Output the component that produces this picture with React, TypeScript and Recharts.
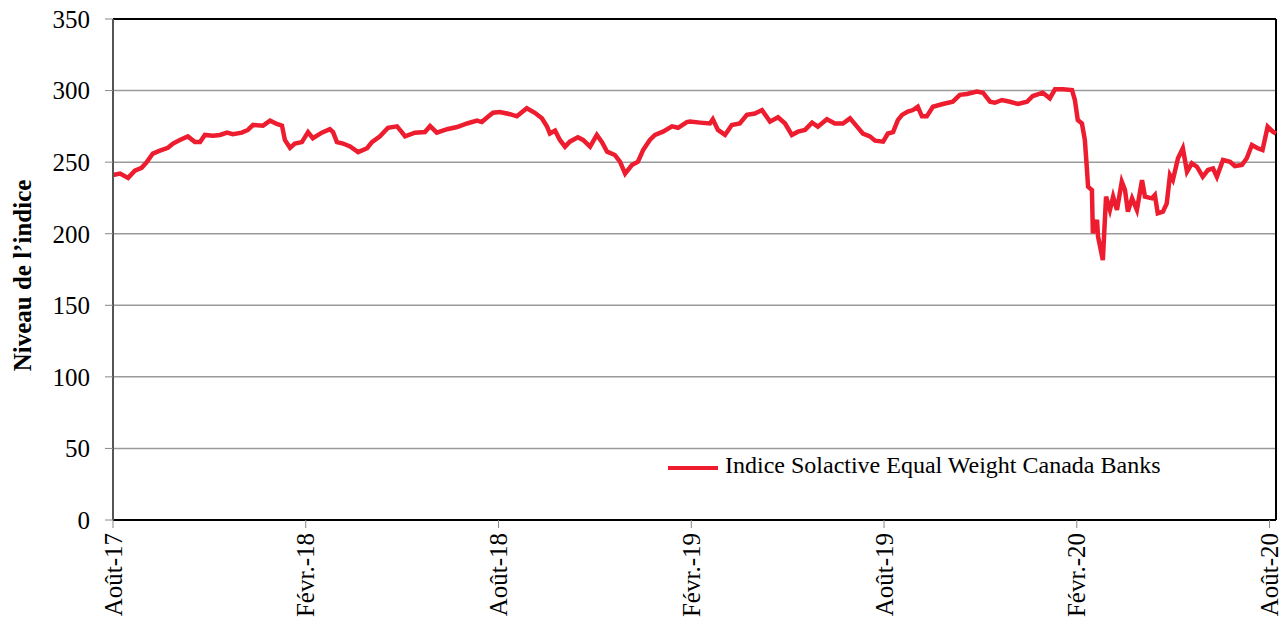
import { LineChart, Line, XAxis, YAxis, CartesianGrid, ReferenceLine, Legend } from 'recharts';

// months since August 2017
const months = [
  0, 0.22, 0.47, 0.68, 0.89, 1.05, 1.24, 1.46, 1.71, 1.87, 2.08, 2.33, 2.55, 2.71, 2.86, 3.11, 3.33, 3.55, 3.73,
  4.01, 4.2, 4.36, 4.67, 4.89, 5.1, 5.26, 5.35, 5.51, 5.66, 5.88, 6.07, 6.22, 6.5, 6.75, 6.85, 6.97, 7.16, 7.38,
  7.63, 7.91, 8.06, 8.31, 8.56, 8.84, 8.99, 9.09, 9.4, 9.71, 9.87, 10.08, 10.4, 10.71, 11.02, 11.33, 11.48, 11.67,
  11.83, 12.04, 12.36, 12.57, 12.88, 13.13, 13.35, 13.51, 13.6, 13.76, 13.91, 14.07, 14.22, 14.47, 14.63, 14.85,
  15.06, 15.22, 15.38, 15.62, 15.78, 15.94, 16.15, 16.34, 16.5, 16.71, 16.87, 17.12, 17.4, 17.59, 17.86, 17.96,
  18.27, 18.58, 18.67, 18.83, 19.05, 19.26, 19.51, 19.73, 19.98, 20.2, 20.45, 20.7, 20.92, 21.13, 21.32, 21.54,
  21.76, 21.94, 22.22, 22.47, 22.72, 22.94, 23.16, 23.34, 23.56, 23.72, 23.97, 24.12, 24.28, 24.43, 24.56, 24.74,
  24.9, 25.05, 25.18, 25.33, 25.52, 25.83, 26.14, 26.36, 26.58, 26.89, 27.08, 27.3, 27.45, 27.67, 27.92, 28.17,
  28.45, 28.63, 28.94, 29.16, 29.32, 29.57, 29.85, 29.94, 30.03, 30.16, 30.25, 30.31, 30.35, 30.47, 30.5, 30.63,
  30.66, 30.81, 30.91, 31.03, 31.13, 31.25, 31.4, 31.5, 31.59, 31.72, 31.87, 32.03, 32.12, 32.34, 32.43, 32.52,
  32.68, 32.8, 32.9, 32.99, 33.15, 33.3, 33.43, 33.58, 33.74, 33.92, 34.08, 34.24, 34.36, 34.55, 34.77, 34.92,
  35.14, 35.29, 35.45, 35.63, 35.78, 35.94, 36.1, 36.2,
];

const values = [
  241, 242, 239, 244, 246, 250, 256, 258, 260, 263, 265.5, 268, 264, 264, 269, 268.5, 269, 270.6, 269.5,
  270.6, 272.5, 276, 275.5, 279, 276.7, 275.5, 265.5, 260, 263, 264, 271, 266.7, 270.6, 273, 271, 264, 263, 261,
  257, 259.7, 264, 268, 274, 275, 271, 268, 270.6, 271, 275.2, 270.6, 273, 274.5, 277, 279, 278, 281.7,
  284.5, 285, 283.5, 282, 287.6, 284.5, 280.6, 274.8, 270, 272, 265.5, 260.8, 264.3, 267.4, 265.5, 260.8,
  269, 264, 257.3, 255, 250.3, 242, 248, 250.3, 258.5, 265.5, 269, 271.3, 275, 274, 278, 278.3,
  277.6, 277, 280, 272.5, 269, 276, 277, 283, 284, 286.4, 278.3, 281.3, 277, 269, 271.3, 272.5,
  277.6, 274.8, 280, 277, 277, 280.6, 274.8, 270, 268, 265, 264.3, 270, 271, 279.4, 283, 285.3,
  286.4, 288.7, 282, 282, 288.7, 290.6, 292.2, 297, 297.6, 299.3, 298.5, 292.2, 291.5, 293.4, 292.2, 290.6,
  292.2, 296.2, 298.5, 294.6, 300.9, 300.9, 300.4, 293.4, 279.4, 277, 265.5, 246.8, 232.8, 230.5, 200.3, 209.6,
  198, 181.6, 225.9, 216.6, 225.9, 216.6, 236.3, 230.5, 215.4, 224.7, 216.6, 237.5, 225.9, 224.7, 227, 214.2,
  215.4, 221.2, 241, 237.5, 252.7, 259.7, 243.3, 249.2, 246.8, 239.8, 244.5, 245.6, 239.8, 251.5, 250.3, 247.3,
  248, 252.7, 262, 259.7, 258.5, 274.8, 271.3, 270,
];

const tickMonths = [0, 6, 12, 18, 24, 30, 36];
const tickLabels = ['Août-17', 'Févr.-18', 'Août-18', 'Févr.-19', 'Août-19', 'Févr.-20', 'Août-20'];
const yTicks = [0, 50, 100, 150, 200, 250, 300, 350];
const seriesName = 'Indice Solactive Equal Weight Canada Banks';
const yTitle = 'Niveau de l’indice';

const data = months.map((m, i) => ({ m, v: values[i] }));

const font = '"Liberation Serif", "Times New Roman", serif';
const red = '#ED1C2E';

const XTick = (props: any) => {
  const { x, y, payload } = props;
  const label = tickLabels[tickMonths.indexOf(payload.value)];
  return (
    <text
      x={x}
      y={y}
      transform={`rotate(-90, ${x}, ${y})`}
      textAnchor="end"
      dominantBaseline="central"
      fontFamily={font}
      fontSize={25}
      fill="#000"
    >
      {label}
    </text>
  );
};

const YTitle = (props: any) => {
  const { viewBox } = props;
  const cy = viewBox.y + viewBox.height / 2 + 6;
  return (
    <text
      x={22}
      y={cy}
      transform={`rotate(-90, 22, ${cy})`}
      textAnchor="middle"
      dominantBaseline="central"
      fontFamily={font}
      fontSize={25}
      fontWeight="bold"
      fill="#000"
    >
      {yTitle}
    </text>
  );
};

const renderLegend = () => (
  <div style={{ display: 'flex', alignItems: 'center', fontFamily: font, fontSize: 24, color: '#000', whiteSpace: 'nowrap' }}>
    <span style={{ display: 'inline-block', width: 50, height: 4, background: red, marginRight: 7, marginTop: 4 }} />
    {seriesName}
  </div>
);

export default function App() {
  return (
    <div style={{ position: 'absolute', left: 0, top: 0, background: '#fff' }}>
      <LineChart width={1283} height={620} data={data} margin={{ top: 19, right: 7, left: 0, bottom: 0 }}>
        <CartesianGrid vertical={false} stroke="#9a9a9a" strokeWidth={1.5} />
        <XAxis
          type="number"
          dataKey="m"
          domain={[0, 36.2]}
          ticks={tickMonths}
          interval={0}
          tick={<XTick />}
          tickSize={8}
          tickMargin={5}
          height={100}
          axisLine={{ stroke: '#000', strokeWidth: 2 }}
          tickLine={{ stroke: '#888' }}
        />
        <YAxis
          domain={[0, 350]}
          ticks={yTicks}
          interval={0}
          width={113}
          tickSize={8}
          tickMargin={15}
          tick={{ fontFamily: font, fontSize: 25, fill: '#000' }}
          axisLine={{ stroke: '#555', strokeWidth: 2 }}
          tickLine={{ stroke: '#888' }}
          label={<YTitle />}
        />
        <ReferenceLine y={350} stroke="#000" strokeWidth={2} />
        <ReferenceLine x={36.2} stroke="#000" strokeWidth={2} />
        <Legend
          layout="horizontal"
          verticalAlign="middle"
          align="center"
          content={renderLegend}
          wrapperStyle={{ left: 668, top: 452, width: 'auto', height: 'auto' }}
        />
        <Line
          type="linear"
          dataKey="v"
          name={seriesName}
          stroke={red}
          strokeWidth={4.5}
          dot={false}
          isAnimationActive={false}
        />
      </LineChart>
    </div>
  );
}
